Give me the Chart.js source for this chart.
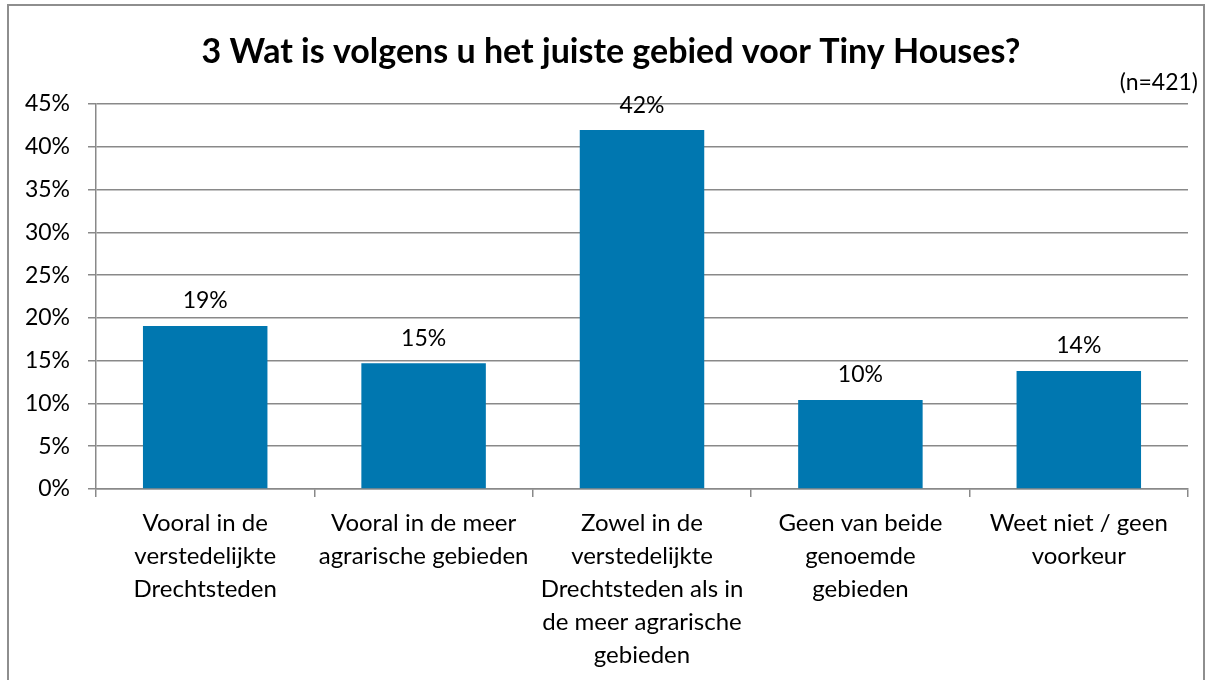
<!DOCTYPE html>
<html>
<head>
<meta charset="utf-8">
<script src="https://cdn.jsdelivr.net/npm/chart.js@4"></script>
<style>
  html, body { margin: 0; padding: 0; background: #fff; }
  #wrap { width: 1212px; height: 680px; }
</style>
</head>
<body>
<div id="wrap"><canvas id="chart" width="1212" height="680"></canvas></div>
<script>
// data
const categories = [
  ['Vooral in de', 'verstedelijkte', 'Drechtsteden'],
  ['Vooral in de meer', 'agrarische gebieden'],
  ['Zowel in de', 'verstedelijkte', 'Drechtsteden als in', 'de meer agrarische', 'gebieden'],
  ['Geen van beide', 'genoemde', 'gebieden'],
  ['Weet niet / geen', 'voorkeur']
];
const values = [19.05, 14.7, 41.95, 10.4, 13.8];
const yTicks = [0, 5, 10, 15, 20, 25, 30, 35, 40, 45];
const title = '3 Wat is volgens u het juiste gebied voor Tiny Houses?';
const note = '(n=421)';

const FONT = 'Lato, "Noto Sans", sans-serif';
const GRID = '#898989';
const BLUE = '#0077b0';

// frame, title, (n=421) and value labels
const extras = {
  id: 'extras',
  beforeDraw(chart) {
    const c = chart.ctx;
    c.save();
    c.fillStyle = '#fff';
    c.fillRect(0, 0, chart.width, chart.height);
    c.strokeStyle = '#8e8e8e';
    c.lineWidth = 2;
    c.strokeRect(8, 5, 1196, 700);
    c.restore();
  },
  afterDatasetsDraw(chart) {
    const c = chart.ctx;
    c.save();
    c.fillStyle = '#000';
    c.textAlign = 'center';
    c.textBaseline = 'middle';
    c.font = 'bold 34px ' + FONT;
    c.fillText(title, 611, 52);
    c.font = '23px ' + FONT;
    c.textAlign = 'right';
    c.fillText(note, 1198, 83);
    c.textAlign = 'center';
    chart.getDatasetMeta(0).data.forEach((bar, i) => {
      c.fillText(Math.round(values[i]) + '%', bar.x, bar.y - 25);
    });
    c.restore();
  }
};

new Chart(document.getElementById('chart'), {
  type: 'bar',
  data: {
    labels: categories,
    datasets: [{
      data: values,
      backgroundColor: BLUE,
      barPercentage: 0.57,
      categoryPercentage: 1
    }]
  },
  options: {
    responsive: false,
    animation: false,
    events: [],
    layout: { padding: { top: 104, right: 24, left: 0, bottom: 0 } },
    plugins: { legend: { display: false }, tooltip: { enabled: false } },
    scales: {
      y: {
        min: 0,
        max: 45,
        afterFit(s) { s.width = 96; },
        afterBuildTicks(s) { s.ticks = yTicks.map(v => ({ value: v })); },
        ticks: {
          color: '#000',
          padding: 18,
          font: { family: FONT, size: 23 },
          callback: v => v + '%'
        },
        grid: { color: GRID, lineWidth: 1.5, tickLength: 8 },
        border: { color: GRID, width: 1.5 }
      },
      x: {
        afterFit(s) { s.height = 191; },
        ticks: {
          color: '#000',
          maxRotation: 0,
          autoSkip: false,
          padding: 10,
          font: { family: FONT, size: 24, lineHeight: 1.375 }
        },
        grid: { offset: true, drawOnChartArea: false, color: GRID, lineWidth: 1.5, tickLength: 8 },
        border: { color: GRID, width: 1.5 }
      }
    }
  },
  plugins: [extras]
});
</script>
</body>
</html>
